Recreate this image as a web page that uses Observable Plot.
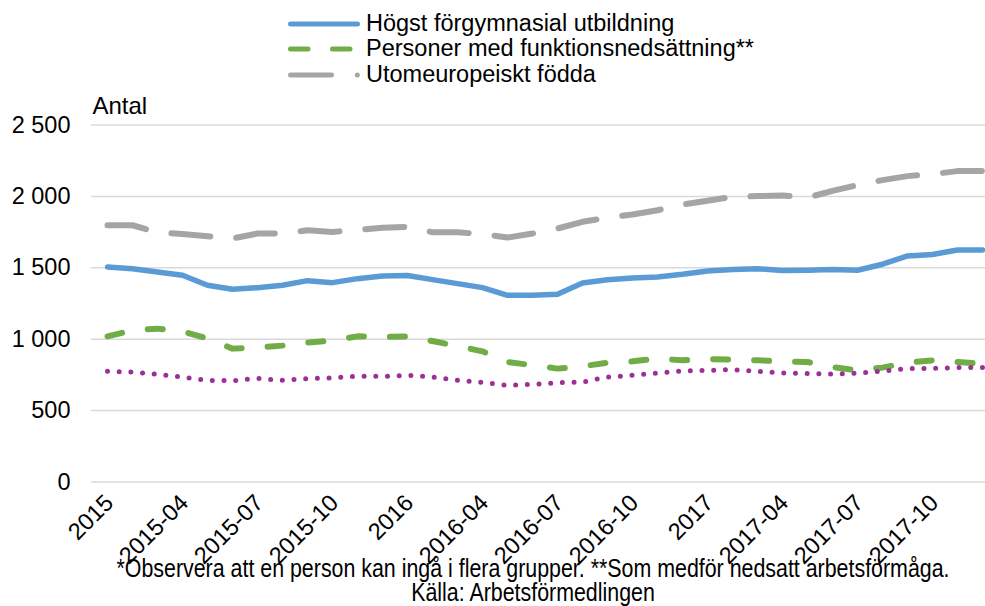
<!DOCTYPE html>
<html>
<head>
<meta charset="utf-8">
<script src="https://cdn.jsdelivr.net/npm/d3@7"></script>
<script src="https://cdn.jsdelivr.net/npm/@observablehq/plot@0.6"></script>
<style>
  html, body { margin: 0; padding: 0; background: #fff; }
  #wrap { position: relative; width: 985px; height: 606px; overflow: hidden; font-family: "Liberation Sans", Arial, sans-serif; }
  #chart { position: absolute; left: 0; top: 0; }
  #legend { position: absolute; left: 0; top: 0; }
  .row { position: absolute; left: 284px; height: 26px; line-height: 26px; font-size: 23.5px; white-space: nowrap; color: #000; }
  .row svg { position: absolute; left: 0; top: 0; }
  .row span { position: absolute; left: 82px; top: 0; }
  #caption { position: absolute; left: 0; top: 0; }
</style>
</head>
<body>
<div id="wrap">
  <div id="chart"></div>
  <div id="legend"></div>
  <svg id="caption" width="985" height="606"></svg>
</div>
<script>
const months = ["2015-01","2015-02","2015-03","2015-04","2015-05","2015-06","2015-07","2015-08","2015-09","2015-10","2015-11","2015-12",
  "2016-01","2016-02","2016-03","2016-04","2016-05","2016-06","2016-07","2016-08","2016-09","2016-10","2016-11","2016-12",
  "2017-01","2017-02","2017-03","2017-04","2017-05","2017-06","2017-07","2017-08","2017-09","2017-10","2017-11","2017-12"];
const tickMonths = ["2015-01","2015-04","2015-07","2015-10","2016-01","2016-04","2016-07","2016-10","2017-01","2017-04","2017-07","2017-10"];
const tickLabels = ["2015","2015-04","2015-07","2015-10","2016","2016-04","2016-07","2016-10","2017","2017-04","2017-07","2017-10"];
const yTicks = [0, 500, 1000, 1500, 2000, 2500];

const seriesNames = ["Högst förgymnasial utbildning", "Personer med funktionsnedsättning**", "Utomeuropeiskt födda", "Serie 4"];
const seriesColors = ["#5b9bd5", "#70ad47", "#a5a5a5", "#9c3096"];

const hogst = [1505,1494,1471,1448,1378,1350,1361,1378,1410,1396,1424,1443,1446,1417,1389,1361,1307,1307,1314,1394,1417,1429,1436,1455,1478,1488,1494,1481,1483,1488,1483,1525,1583,1593,1625,1625];
const funk = [1020,1062,1074,1055,1004,934,941,955,976,992,1020,1015,1020,987,952,915,840,818,794,810,836,845,864,852,861,857,852,845,840,805,782,801,836,852,840,829];
const utom = [1798,1798,1747,1737,1721,1705,1740,1740,1763,1751,1766,1780,1787,1749,1749,1735,1712,1740,1775,1822,1852,1873,1903,1943,1969,1997,2002,2006,1992,2039,2079,2114,2142,2156,2177,2177];
const serie4 = [775,770,754,735,712,709,726,712,723,730,740,740,747,735,712,698,676,684,695,700,735,747,763,777,782,787,775,763,759,756,763,777,794,796,801,801];

const allValues = [hogst, funk, utom, serie4];
const rows = allValues.map((vals, s) => months.map((m, i) => ({month: m, value: vals[i], series: seriesNames[s]})));
const tickRows = tickMonths.map((m, i) => ({month: m, label: tickLabels[i]}));

const lineStyles = [
  {strokeWidth: 5.5, strokeDasharray: null},
  {strokeWidth: 6, strokeDasharray: "15,26"},
  {strokeWidth: 6, strokeDasharray: "39,26"},
  {strokeWidth: 5, strokeDasharray: "0,11.7"}
];

const fmt = d => d3.format(",")(d).replace(/,/g, "\u00a0");

const chart = Plot.plot({
  width: 985,
  height: 606,
  marginLeft: 91,
  marginRight: 0,
  marginTop: 124.5,
  marginBottom: 124.5,
  style: {fontFamily: "'Liberation Sans', Arial, sans-serif", fontSize: "23.5px", color: "#000", background: "transparent", overflow: "hidden"},
  x: {type: "point", domain: months, range: [91, 998], padding: 0.5, align: 0.5, axis: null},
  y: {domain: [0, 2500]},
  marks: [
    Plot.gridY(yTicks, {stroke: "#d9d9d9", strokeOpacity: 1, strokeWidth: 1.5}),
    Plot.axisY({ticks: yTicks, tickFormat: fmt, tickSize: 0, tickPadding: 21, label: null}),
    Plot.text(tickRows, {x: "month", text: "label", frameAnchor: "bottom", rotate: -45, textAnchor: "end", lineAnchor: "middle", dx: 2, dy: 17, fontSize: 23.5, fill: "#000"}),
    Plot.text(["Antal"], {text: d => d, frameAnchor: "top-left", textAnchor: "start", lineAnchor: "middle", dx: 1, dy: -18.2, fontSize: 24}),
    ...rows.map((r, s) => Plot.line(r, {
      x: "month", y: "value",
      stroke: seriesColors[s],
      strokeWidth: lineStyles[s].strokeWidth,
      strokeDasharray: lineStyles[s].strokeDasharray,
      strokeLinecap: "round", strokeLinejoin: "round"
    }))
  ]
});
document.getElementById("chart").appendChild(chart);

// Legend (first three series)
const legendSwatches = [
  {d: "M6.5,0H73.5", dash: null, w: 5},
  {d: "M6.5,0H66", dash: "17.5,24.5", w: 5},
  {d: "M6.5,0H73.5", dash: "41,25.8,0,60", w: 5}
];
const legendTops = [9.5, 35, 60.8];
const legend = document.getElementById("legend");
for (let s = 0; s < 3; s++) {
  const row = document.createElement("div");
  row.className = "row";
  row.style.top = legendTops[s] + "px";
  const sw = legendSwatches[s];
  row.innerHTML = `<svg width="80" height="26"><path transform="translate(0,14)" d="${sw.d}" fill="none" stroke="${seriesColors[s]}" stroke-width="${sw.w}" stroke-linecap="round" ${sw.dash ? `stroke-dasharray="${sw.dash}"` : ""}/></svg><span>${seriesNames[s]}</span>`;
  legend.appendChild(row);
}

// Caption
const captionLines = ["*Observera att en person kan ingå i flera grupper. **Som medför nedsatt arbetsförmåga.", "Källa: Arbetsförmedlingen"];
const cap = d3.select("#caption");
const t1 = cap.append("text").attr("x", 533).attr("y", 576.7).attr("text-anchor", "middle")
  .attr("font-family", "'Liberation Sans', Arial, sans-serif").attr("font-size", 25).attr("fill", "#000").text(captionLines[0]);
const t2 = cap.append("text").attr("x", 533).attr("y", 600.5).attr("text-anchor", "middle")
  .attr("font-family", "'Liberation Sans', Arial, sans-serif").attr("font-size", 25).attr("fill", "#000").text(captionLines[1]);
const n1 = t1.node().getComputedTextLength();
const n2 = t2.node().getComputedTextLength();
const k = 833 / n1;
t1.attr("textLength", 833).attr("lengthAdjust", "spacingAndGlyphs");
t2.attr("textLength", n2 * k).attr("lengthAdjust", "spacingAndGlyphs");
</script>
</body>
</html>
